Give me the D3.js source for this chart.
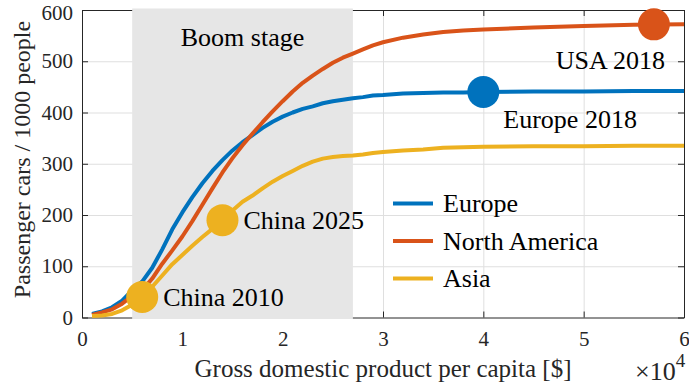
<!DOCTYPE html>
<html>
<head>
<meta charset="utf-8">
<script src="https://cdn.jsdelivr.net/npm/d3@7"></script>
<style>
  body { margin: 0; background: #fff; }
</style>
</head>
<body>
<div id="chart"></div>
<script>
// GDP per capita [$] where the curves are sampled
const gdp = [1000, 2000, 3000, 4000, 5000, 6000, 7000, 8000, 9000, 10000,
             11000, 12000, 13000, 14000, 15000, 16000, 17000, 18000, 19000, 20000,
             21000, 22000, 23000, 24000, 25000, 26000, 27000, 28000, 29000, 30000,
             32000, 34000, 36000, 38000, 40000, 45000, 50000, 55000, 60000];

// passenger cars per 1000 people
const europe = [7, 12, 20, 33, 53, 70, 97, 133, 172, 205,
                235, 262, 286, 307, 326, 342, 356, 370, 382, 392,
                400, 407, 412, 418, 422, 425, 428, 430, 433, 434,
                437, 438, 439, 439, 440, 441, 441, 442, 442];

const northAmerica = [5, 10, 16, 27, 42, 53, 76, 105, 131, 158,
                      188, 220, 252, 283, 311, 336, 359, 381, 402, 422,
                      441, 458, 472, 485, 497, 507, 515, 523, 531, 537,
                      546, 552, 557, 560, 562, 566, 569, 571, 572];

const asia = [3, 4, 7, 14, 25, 38, 60, 82, 104, 122,
              140, 157, 173, 190, 209, 226, 238, 252, 265, 276,
              286, 296, 304, 310, 313, 315, 316, 318, 321, 323,
              326, 328, 331, 332, 333, 334, 334, 335, 335];

const seriesNames = ["Europe", "North America", "Asia"];
const seriesColors = ["#0072BD", "#D95319", "#EDB120"];

// highlighted countries / years
const pointLabels = ["China 2010", "China 2025", "Europe 2018", "USA 2018"];
const pointGdp = [6000, 14000, 40000, 57000];
const pointCars = [40, 190, 440, 572];
const pointSeries = [2, 2, 0, 1];

const boomStage = [5000, 27000];

const xTicks = [0, 10000, 20000, 30000, 40000, 50000, 60000];
const yTicks = [0, 100, 200, 300, 400, 500, 600];

const serif = '"Liberation Serif", "Times New Roman", Times, serif';

// set the dimensions and margins of the graph
const margin = {top: 10, right: 5, bottom: 72.5, left: 82},
      width = 689 - margin.left - margin.right,
      height = 390 - margin.top - margin.bottom;

const svg = d3.select("#chart")
  .append("svg")
  .attr("width", width + margin.left + margin.right)
  .attr("height", height + margin.top + margin.bottom)
  .attr("font-family", serif)
  .append("g")
  .attr("transform", `translate(${margin.left},${margin.top})`);

const x = d3.scaleLinear().domain([0, 60000]).range([0, width]);
const y = d3.scaleLinear().domain([0, 600]).range([height, 0]);

const axisColor = "#262626";
const gridColor = "#dfdfdf";
const tickFont = 21;

// grid
svg.append("g")
  .attr("transform", `translate(0,${height})`)
  .call(d3.axisBottom(x).tickValues(xTicks.slice(1, -1)).tickSize(-height).tickFormat(""))
  .call(g => g.select(".domain").remove())
  .selectAll("line").attr("stroke", gridColor);

svg.append("g")
  .call(d3.axisLeft(y).tickValues(yTicks.slice(1, -1)).tickSize(-width).tickFormat(""))
  .call(g => g.select(".domain").remove())
  .selectAll("line").attr("stroke", gridColor);

// box with inward ticks
const styleAxis = g => {
  g.attr("font-size", tickFont).attr("font-family", serif);
  g.select(".domain").attr("stroke", axisColor);
  g.selectAll(".tick line").attr("stroke", axisColor);
  g.selectAll("text").attr("fill", axisColor).style("font-family", serif);
};

svg.append("g")
  .attr("transform", `translate(0,${height})`)
  .call(d3.axisBottom(x).tickValues(xTicks).tickSizeInner(-6).tickSizeOuter(0)
    .tickPadding(14).tickFormat(d => d / 10000))
  .call(styleAxis);

svg.append("g")
  .call(d3.axisLeft(y).tickValues(yTicks).tickSizeInner(-6).tickSizeOuter(0)
    .tickPadding(9))
  .call(styleAxis)
  .call(g => g.selectAll("text").filter(d => d === 600).attr("y", 3));

svg.append("g")
  .call(d3.axisTop(x).tickValues(xTicks).tickSizeInner(-6).tickSizeOuter(0).tickFormat(""))
  .call(styleAxis);

svg.append("g")
  .attr("transform", `translate(${width},0)`)
  .call(d3.axisRight(y).tickValues(yTicks).tickSizeInner(-6).tickSizeOuter(0).tickFormat(""))
  .call(styleAxis);

// boom stage band
svg.append("rect")
  .attr("x", x(boomStage[0]))
  .attr("y", -1.5)
  .attr("width", x(boomStage[1]) - x(boomStage[0]))
  .attr("height", height + 3)
  .attr("fill", "#e6e6e6");

svg.append("text")
  .attr("x", (x(boomStage[0]) + x(boomStage[1])) / 2)
  .attr("y", 36)
  .attr("text-anchor", "middle")
  .attr("font-size", 26)
  .attr("fill", "#000")
  .style("font-family", serif)
  .text("Boom stage");

// curves
const series = [europe, northAmerica, asia];
const line = d3.line()
  .x((d, i) => x(gdp[i]))
  .y(d => y(d));

svg.selectAll(".curve")
  .data(series)
  .enter()
  .append("path")
  .attr("class", "curve")
  .attr("d", d => line(d))
  .attr("fill", "none")
  .attr("stroke", (d, i) => seriesColors[i])
  .attr("stroke-width", 4)
  .attr("stroke-linejoin", "round");

// points and their labels
const labelOffset = [[21, 9, "start"], [21, 9, "start"], [20, 36, "start"], [11, 45, "end"]];

pointLabels.forEach((label, i) => {
  const cx = x(pointGdp[i]), cy = y(pointCars[i]);
  svg.append("circle")
    .attr("cx", cx)
    .attr("cy", cy)
    .attr("r", 16)
    .attr("fill", seriesColors[pointSeries[i]]);
  svg.append("text")
    .attr("x", cx + labelOffset[i][0])
    .attr("y", cy + labelOffset[i][1])
    .attr("text-anchor", labelOffset[i][2])
    .attr("font-size", 26)
    .attr("fill", "#000")
    .style("font-family", serif)
    .text(label);
});

// legend
const legend = svg.append("g")
  .attr("transform", `translate(${393 - margin.left},${203.5 - margin.top})`);

seriesNames.forEach((name, i) => {
  const row = legend.append("g").attr("transform", `translate(0,${i * 37.5})`);
  row.append("line")
    .attr("x1", 0).attr("x2", 40)
    .attr("stroke", seriesColors[i])
    .attr("stroke-width", 4);
  row.append("text")
    .attr("x", 50)
    .attr("y", 8.5)
    .attr("font-size", 26)
    .attr("fill", "#000")
    .style("font-family", serif)
    .text(name);
});

// axis labels
svg.append("text")
  .attr("x", width / 2)
  .attr("y", 367)
  .attr("text-anchor", "middle")
  .attr("font-size", 25)
  .attr("fill", axisColor)
  .style("font-family", serif)
  .text("Gross domestic product per capita [$]");

svg.append("text")
  .attr("transform", `translate(${30 - margin.left},${149.5}) rotate(-90)`)
  .attr("text-anchor", "middle")
  .attr("font-size", 24)
  .attr("fill", axisColor)
  .style("font-family", serif)
  .text("Passenger cars / 1000 people");

// exponent of the x axis
const expo = svg.append("text")
  .attr("x", 635 - margin.left)
  .attr("y", 370)
  .attr("font-size", 26)
  .attr("fill", axisColor)
  .style("font-family", serif);
expo.append("tspan").text("\u00d710");
expo.append("tspan").attr("dy", -13).attr("font-size", 19).text("4");
</script>
</body>
</html>
